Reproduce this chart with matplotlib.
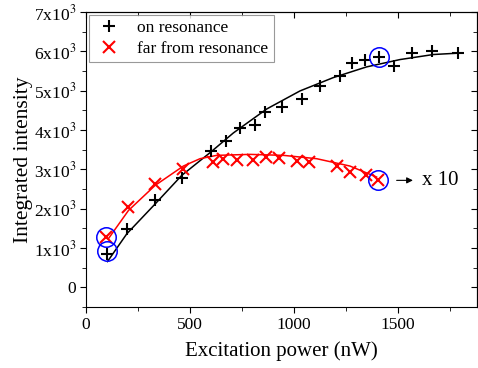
import matplotlib.pyplot as plt
import numpy as np

plt.rcParams['font.family'] = ['Liberation Serif', 'DejaVu Serif']
plt.rcParams['mathtext.fontset'] = 'stix'

# measured points, on resonance
on_x = [103, 196, 330, 460, 600, 671, 740, 812, 861, 941, 1037, 1125, 1221,
        1277, 1341, 1410, 1482, 1566, 1662, 1787]
on_y = [850, 1480, 2230, 2780, 3460, 3730, 4050, 4140, 4470, 4590, 4780, 5130,
        5370, 5710, 5780, 5850, 5620, 5970, 6020, 5950]

# far from resonance
far_x = [96, 204, 332, 468, 609, 657, 728, 801, 865, 928, 1013, 1074, 1208,
         1269, 1346, 1402]
far_y = [1270, 2040, 2630, 3000, 3190, 3270, 3250, 3250, 3310, 3290, 3200,
         3180, 3080, 2930, 2860, 2720]

# fit curves
fit_on_x = [103, 196, 330, 460, 600, 708, 869, 1029, 1189, 1349, 1510, 1670, 1800]
fit_on_y = [654, 1360, 2107, 2846, 3441, 3925, 4537, 4996, 5335, 5607, 5794, 5922, 5960]
fit_far_x = [107, 204, 332, 468, 548, 628, 788, 949, 1109, 1269, 1397]
fit_far_y = [1232, 1954, 2591, 3084, 3271, 3356, 3381, 3356, 3271, 3084, 2804]

# circled points
circ_x = [103, 96, 1410, 1402]
circ_y = [910, 1270, 5850, 2720]

fig = plt.figure(figsize=(4.78, 3.68), dpi=100)
ax = fig.add_axes([0.18, 0.166, 0.818, 0.801])

ax.plot(fit_on_x, fit_on_y, color='black', lw=1.1)
ax.plot(fit_far_x, fit_far_y, color='red', lw=1.1)
ax.plot(on_x, on_y, '+', color='black', ms=9, mew=1.5, label='on resonance')
ax.plot(far_x, far_y, 'x', color='red', ms=8, mew=1.5, label='far from resonance')
ax.plot(circ_x, circ_y, 'o', mfc='none', mec='blue', ms=14, mew=1.1)

ax.annotate('', xy=(1585, 2720), xytext=(1480, 2720),
            arrowprops=dict(arrowstyle='-|>', color='black', lw=0.8,
                            mutation_scale=9))
ax.text(1615, 2720, 'x 10', fontsize=15, va='center', ha='left')

ax.set_xlim(0, 1880)
ax.set_ylim(-500, 7000)
ax.set_xticks([0, 500, 1000, 1500])
ax.set_xticks([250, 750, 1250, 1750], minor=True)
yt = np.arange(0, 7001, 1000)
ax.set_yticks(yt)
ax.set_yticklabels(['0'] + [r'%dx10$^{3}$' % (v // 1000) for v in yt[1:]])
ax.set_yticks(np.arange(-500, 7000, 1000), minor=True)
ax.tick_params(direction='out', labelsize=12.5, length=4, pad=3)
ax.tick_params(which='minor', direction='out', length=3)

top = ax.secondary_xaxis('top')
top.set_xticks([0, 500, 1000, 1500])
top.set_xticks([250, 750, 1250, 1750], minor=True)
top.tick_params(direction='in', labeltop=False, length=4)
top.tick_params(which='minor', direction='in', length=3)
right = ax.secondary_yaxis('right')
right.set_yticks(yt)
right.set_yticks(np.arange(-500, 7000, 1000), minor=True)
right.tick_params(direction='in', labelright=False, length=4)
right.tick_params(which='minor', direction='in', length=3)

ax.set_xlabel('Excitation power (nW)', fontsize=15, labelpad=6)
ax.set_ylabel('Integrated intensity', fontsize=15.5, labelpad=1)

leg = ax.legend(loc='upper left', fontsize=12.5, fancybox=False,
                edgecolor='gray', borderaxespad=0.15, borderpad=0.3,
                handletextpad=0.7, labelspacing=0.25, handlelength=1.8)
leg.get_frame().set_linewidth(0.8)

fig.savefig('out.png', dpi=100)
